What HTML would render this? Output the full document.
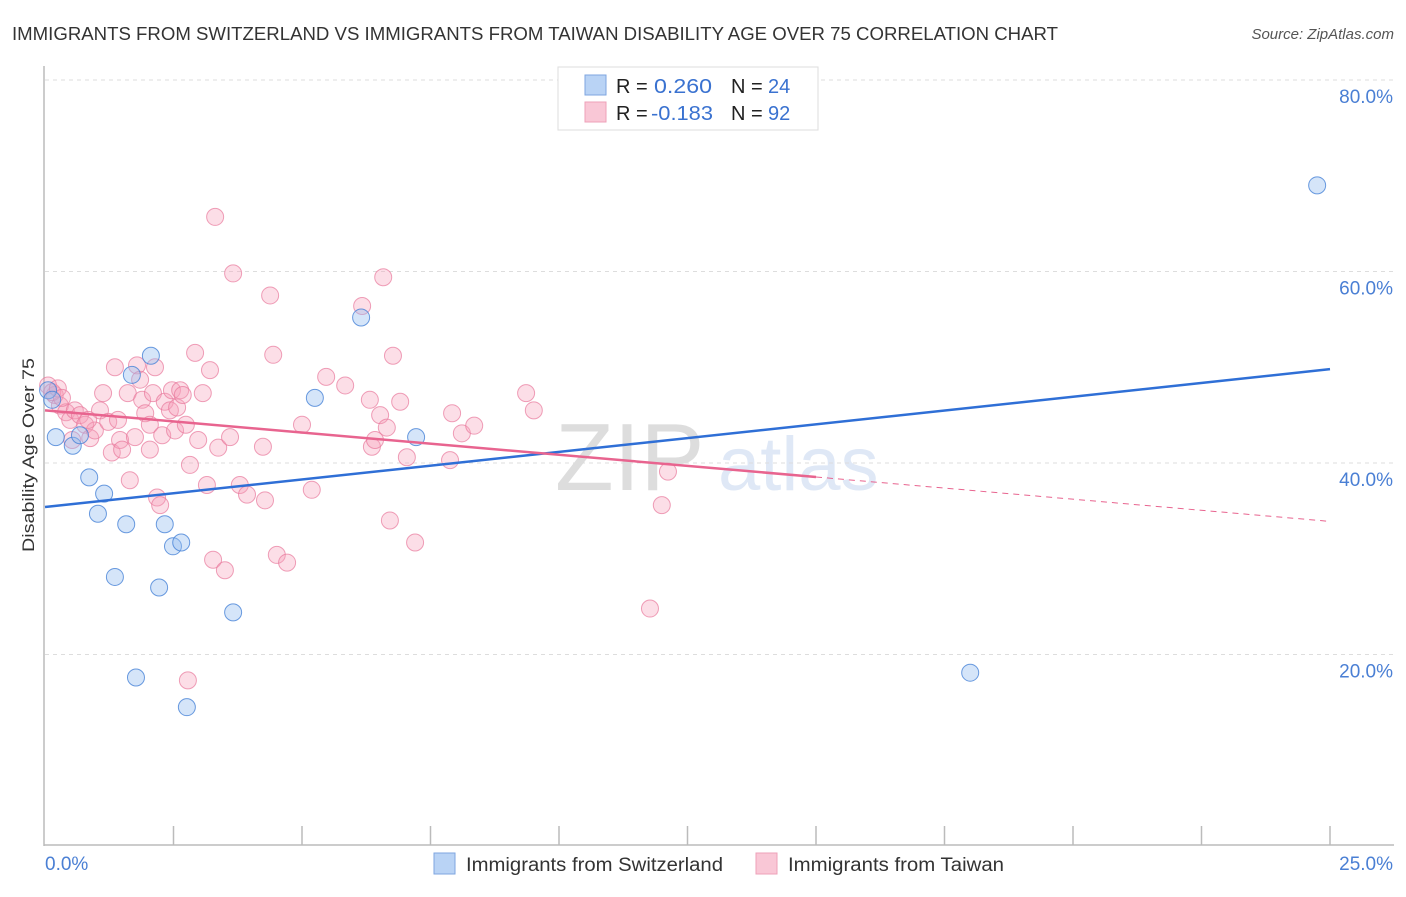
<!DOCTYPE html>
<html><head><meta charset="utf-8">
<style>
body{margin:0;background:#fff;font-family:"Liberation Sans",sans-serif;}
svg text{font-family:"Liberation Sans",sans-serif;}
</style></head>
<body>
<svg id="chart" width="1406" height="892" viewBox="0 0 1406 892" xmlns="http://www.w3.org/2000/svg">
<text x="12" y="40" font-size="18" fill="#333" textLength="1046" lengthAdjust="spacingAndGlyphs">IMMIGRANTS FROM SWITZERLAND VS IMMIGRANTS FROM TAIWAN DISABILITY AGE OVER 75 CORRELATION CHART</text>
<text x="1394" y="39" font-size="15" fill="#555" font-style="italic" text-anchor="end">Source: ZipAtlas.com</text>
<text x="555" y="490" font-size="96" fill="#ddd" font-family="Liberation Serif,serif">ZIP</text>
<text x="718" y="490" font-size="76" fill="#dfe8f6">atlas</text>
<g id="grid"></g>
<g id="axes"></g>
<g id="marks"></g>
<text transform="translate(34,455) rotate(-90)" font-size="17" fill="#333" text-anchor="middle" textLength="194" lengthAdjust="spacingAndGlyphs">Disability Age Over 75</text>
<g>
<rect x="558" y="67" width="260" height="63" fill="#fff" stroke="#ddd"/>
<rect x="585" y="75" width="21" height="20" fill="#b9d3f5" stroke="#7ea6e0"/>
<rect x="585" y="102" width="21" height="20" fill="#f9c7d6" stroke="#eea0b8"/>
<text x="616" y="93" font-size="20" fill="#222">R = </text><text x="654" y="93" font-size="20" fill="#3a72d0" textLength="58" lengthAdjust="spacingAndGlyphs">0.260</text>
<text x="731" y="93" font-size="20" fill="#222">N = </text><text x="768" y="93" font-size="20" fill="#3a72d0">24</text>
<text x="616" y="120" font-size="20" fill="#222">R = </text><text x="651" y="120" font-size="20" fill="#3a72d0" textLength="62" lengthAdjust="spacingAndGlyphs">-0.183</text>
<text x="731" y="120" font-size="20" fill="#222">N = </text><text x="768" y="120" font-size="20" fill="#3a72d0">92</text>
</g>
<g>
<rect x="434" y="853" width="21" height="21" fill="#b9d3f5" stroke="#7ea6e0"/>
<text x="466" y="871" font-size="19" fill="#333" textLength="257" lengthAdjust="spacingAndGlyphs">Immigrants from Switzerland</text>
<rect x="756" y="853" width="21" height="21" fill="#f9c7d6" stroke="#eea0b8"/>
<text x="788" y="871" font-size="19" fill="#333" textLength="216" lengthAdjust="spacingAndGlyphs">Immigrants from Taiwan</text>
</g>
</svg>
<script>
const yTicks=[20,40,60,80];
const yTickLabels=["20.0%","40.0%","60.0%","80.0%"];
const xEndLabels=["0.0%","25.0%"];
const swissX=[0.21,0.54,0.68,0.86,1.15,1.03,1.58,1.36,1.77,2.06,1.69,2.22,2.33,2.49,2.65,2.76,3.66,5.25,6.15,7.22,18.0,24.75,0.06,0.14];
const swissY=[42.7,41.8,42.9,38.5,36.8,34.7,33.6,28.1,17.6,51.2,49.2,27.0,33.6,31.3,31.7,14.5,24.4,46.8,55.2,42.7,18.1,69.0,47.6,46.6];
const taiwanX=[0.06,0.19,0.29,0.14,0.25,0.41,0.49,0.58,0.68,0.78,0.88,0.97,1.07,1.13,1.23,1.36,1.30,1.46,1.50,1.61,1.65,1.75,1.79,1.85,1.89,1.95,2.04,2.10,2.14,2.18,2.24,2.28,2.33,2.43,2.47,2.53,2.57,2.63,2.68,2.74,2.78,2.82,2.92,2.98,3.07,3.15,3.21,3.27,3.31,3.37,3.50,3.60,3.66,3.79,3.93,4.28,4.24,4.38,4.44,4.51,4.71,5.00,5.19,5.47,5.84,6.17,6.32,6.36,6.42,6.52,6.58,6.65,6.71,6.77,6.91,7.04,7.20,7.88,7.92,8.11,8.35,9.36,9.51,11.77,12.00,12.12,0.33,0.53,0.84,1.42,2.04];
const taiwanY=[48.1,47.1,46.0,47.4,47.8,45.3,44.5,45.5,45.0,44.0,42.6,43.4,45.5,47.3,44.3,50.0,41.1,42.4,41.4,47.3,38.2,42.7,50.2,48.7,46.6,45.2,44.0,47.3,50.0,36.4,35.6,42.9,46.4,45.5,47.6,43.4,45.8,47.6,47.1,44.0,17.3,39.8,51.5,42.4,47.3,37.7,49.7,29.9,65.7,41.6,28.8,42.7,59.8,37.7,36.7,36.1,41.7,57.5,51.3,30.4,29.6,44.0,37.2,49.0,48.1,56.4,46.6,41.7,42.4,45.0,59.4,43.7,34.0,51.2,46.4,40.6,31.7,40.3,45.2,43.1,43.9,47.3,45.5,24.8,35.6,39.1,46.8,42.4,44.5,44.5,41.4];
const swissTrend=[35.4,49.8];
const taiwanTrend=[45.5,33.9];
const taiwanSolidEnd=15;

const NS="http://www.w3.org/2000/svg";
const X0=45,X1=1330,Y0=846,Y80=80;
const sx=v=>X0+(X1-X0)*v/25;
const sy=v=>Y0-(Y0-Y80)*v/80;
function mk(tag,attrs,parent){const e=document.createElementNS(NS,tag);for(const k in attrs)e.setAttribute(k,attrs[k]);document.getElementById(parent).appendChild(e);return e;}

yTicks.forEach((t,i)=>{
  const g=mk('line',{x1:X0,x2:1394,y1:sy(t),y2:sy(t),stroke:'#ddd','stroke-dasharray':'4,4'},'grid');
  
  
  const tx=mk('text',{x:1393,y:sy(t)+23,'font-size':19,fill:'#4a7fd4','text-anchor':'end'},'axes');
  tx.textContent=yTickLabels[i];
  
  
});
const ax=mk('line',{x1:44,x2:44,y1:66,y2:846,stroke:'#bbb','stroke-width':1.5},'axes');


const bx=mk('line',{x1:44,x2:1394,y1:845,y2:845,stroke:'#bbb','stroke-width':1.5},'axes');


for(let i=1;i<=10;i++){
  const t=mk('line',{x1:sx(i*2.5),x2:sx(i*2.5),y1:826,y2:845,stroke:'#bbb','stroke-width':1.5},'axes');
  
  
}
const xl=mk('text',{x:45,y:870,'font-size':19,fill:'#4a7fd4'},'axes');
xl.textContent=xEndLabels[0];


const xr=mk('text',{x:1393,y:870,'font-size':19,fill:'#4a7fd4','text-anchor':'end'},'axes');
xr.textContent=xEndLabels[1];



taiwanX.forEach((x,i)=>{
  const c=mk('circle',{cx:sx(x),cy:sy(taiwanY[i]),r:8.5,fill:'rgba(245,160,185,0.35)',stroke:'rgba(232,120,155,0.7)','stroke-width':1},'marks');
  
  
});
swissX.forEach((x,i)=>{
  const c=mk('circle',{cx:sx(x),cy:sy(swissY[i]),r:8.5,fill:'rgba(150,190,240,0.4)',stroke:'rgba(70,130,215,0.8)','stroke-width':1},'marks');
  
  
});
const tAt=x=>taiwanTrend[0]+(taiwanTrend[1]-taiwanTrend[0])*x/25;
const l1=mk('line',{x1:sx(0),y1:sy(swissTrend[0]),x2:sx(25),y2:sy(swissTrend[1]),stroke:'#2f6fd6','stroke-width':2.5},'marks');


const l2=mk('line',{x1:sx(0),y1:sy(tAt(0)),x2:sx(taiwanSolidEnd),y2:sy(tAt(taiwanSolidEnd)),stroke:'#e8648f','stroke-width':2.5},'marks');


const l3=mk('line',{x1:sx(taiwanSolidEnd),y1:sy(tAt(taiwanSolidEnd)),x2:sx(25),y2:sy(tAt(25)),stroke:'#e8648f','stroke-width':1,'stroke-dasharray':'6,5'},'marks');


</script>
</body></html>
